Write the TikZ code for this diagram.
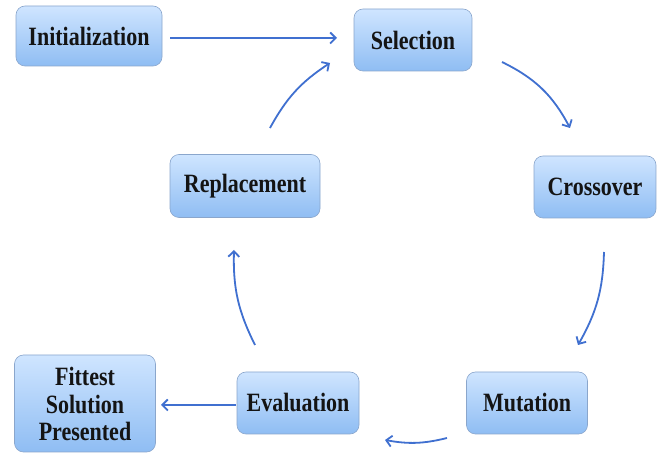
\documentclass[tikz,border=0pt]{standalone}
\usepackage{fontspec}
\usepackage{graphicx}
\setmainfont{Liberation Serif}
\usetikzlibrary{arrows.meta}
\definecolor{boxtop}{HTML}{CFE5FF}
\definecolor{boxbot}{HTML}{8FBDF3}
\definecolor{boxline}{HTML}{8AA6CC}
\definecolor{arrowblue}{HTML}{4070D0}
\definecolor{txt}{HTML}{141414}
\newcommand{\stxt}[1]{\scalebox{1.0}[1.2]{#1}}
\tikzset{
  stage/.style={draw=boxline, line width=0.6pt, rounded corners=9pt,
    top color=boxtop, bottom color=boxbot, text=txt,
    font=\fontsize{22}{24}\selectfont\bfseries, align=center, inner sep=0pt},
  flow/.style={draw=arrowblue, line width=1.8pt,
    -{Straight Barb[length=5.5pt,width=11pt,line width=1.8pt]}},
}
\begin{document}
\begin{tikzpicture}[x=1pt,y=1pt]
\useasboundingbox (0,0) rectangle (657,453);
\fill[white] (0,0) rectangle (657,453);
\begin{scope}
\clip (0,0) rectangle (657,453);
\node[stage, minimum width=146pt, minimum height=60pt] (init) at (89,417) {\stxt{Initialization}};
\node[stage, minimum width=118pt, minimum height=62pt] (sel) at (413,413) {\stxt{Selection}};
\node[stage, minimum width=122pt, minimum height=62pt] (cross) at (595,266) {\stxt{Crossover}};
\node[stage, minimum width=150pt, minimum height=63pt] (repl) at (245,267) {\stxt{Replacement}};
\node[stage, minimum width=122pt, minimum height=62pt] (eval) at (298,50) {\stxt{Evaluation}};
\node[stage, minimum width=121pt, minimum height=62pt] (mut) at (527,50) {\stxt{Mutation}};
\node[stage, minimum width=141pt, minimum height=97pt] (fit) at (85,49.5) {\raisebox{-4pt}[\height][\depth]{\stxt{\begin{tabular}{@{}c@{}}Fittest\\[-1pt]Solution\\[-1pt]Presented\end{tabular}}}};
\end{scope}
\coordinate (a1s) at (170,415);
\coordinate (a1e) at (337,415);
\coordinate (a2s) at (502,391);
\coordinate (a2e) at (570,325);
\coordinate (a3s) at (604,201);
\coordinate (a3e) at (578,108);
\coordinate (a4s) at (447,15);
\coordinate (a4e) at (385,13);
\coordinate (a5s) at (236,48);
\coordinate (a5e) at (161,48);
\coordinate (a6s) at (255,108);
\coordinate (a6e) at (234,203);
\coordinate (a7s) at (270,325);
\coordinate (a7e) at (330,390);
\draw[flow] (a1s) -- (a1e);
\draw[flow] (a2s) to[bend left=18] (a2e);
\draw[flow] (a3s) to[bend left=14] (a3e);
\draw[flow] (a4s) to[bend left=12] (a4e);
\draw[flow] (a5s) -- (a5e);
\draw[flow] (a6s) to[bend left=14] (a6e);
\draw[flow] (a7s) to[bend left=14] (a7e);
\end{tikzpicture}
\end{document}
